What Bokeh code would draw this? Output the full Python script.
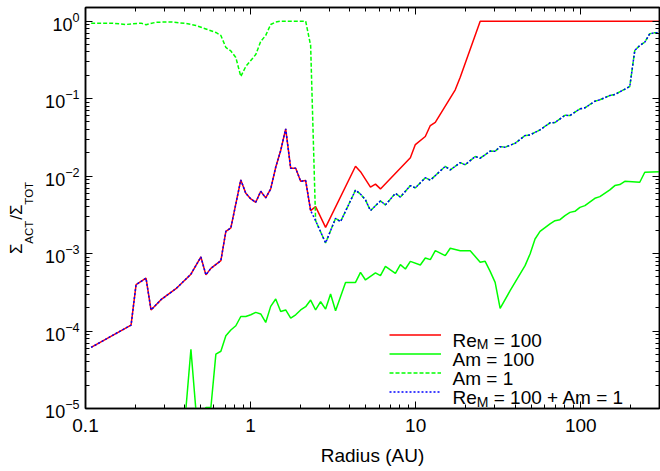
import math
from bokeh.plotting import figure
from bokeh.models import (Range1d, FixedTicker, LogAxis, CustomJSTickFormatter,
                          Label, Legend, LegendItem)
from bokeh.embed import file_html
from bokeh.resources import INLINE

# ---------------- data ----------------
radius_rem = [0.1082, 0.1888, 0.2024, 0.2326, 0.2494, 0.2866, 0.3532, 0.4351,
              0.5001, 0.5362, 0.5748, 0.6607, 0.7084, 0.7594, 0.8141, 0.8726,
              0.9355, 1.003, 1.075, 1.152, 1.235, 1.324, 1.420, 1.522, 1.632,
              1.750, 1.876, 2.011, 2.156, 2.311, 2.477, 2.847, 4.322, 4.633,
              5.324, 5.708, 6.119, 9.288, 9.957, 11.44, 12.27, 13.15, 17.37,
              18.62, 24.60, 300.0]
ratio_rem = [6.14e-5, 1.195e-4, 3.96e-4, 4.81e-4, 1.87e-4, 2.54e-4, 3.52e-4, 5.42e-4,
             9.04e-4, 5.31e-4, 6.44e-4, 8.09e-4, 1.935e-3, 2.14e-3, 4.37e-3, 8.93e-3,
             5.99e-3, 5.07e-3, 4.59e-3, 6.36e-3, 5.23e-3, 6.83e-3, 1.30e-2, 2.14e-2, 4.07e-2,
             1.26e-2, 1.26e-2, 8.57e-3, 8.75e-3, 3.58e-3, 4.04e-3, 2.18e-3, 1.34e-2, 1.14e-2,
             7.21e-3, 7.88e-3, 6.83e-3, 1.72e-2, 2.55e-2, 3.24e-2, 4.49e-2, 4.95e-2, 0.130,
             0.189, 1.0, 1.0]

radius_am100 = [0.4059, 0.4351, 0.4665, 0.5001, 0.5362, 0.5748, 0.6163, 0.6607,
                0.7084, 0.7594, 0.8141, 0.8726, 0.9355, 1.003, 1.075, 1.152,
                1.235, 1.324, 1.420, 1.522, 1.632, 1.750, 1.876, 2.011, 2.156,
                2.311, 2.477, 2.656, 2.847, 3.052, 3.272, 3.761, 4.322, 4.633,
                4.966, 5.708, 6.119, 6.559, 7.032, 7.539, 8.082, 8.664, 9.288,
                10.67, 11.44, 12.27, 13.15, 15.11, 16.20, 18.62, 21.40, 24.60,
                26.36, 28.27, 30.30, 32.49, 37.34, 46.00, 49.32, 52.87, 56.68,
                65.14, 69.83, 74.86, 80.26, 86.04, 92.23, 98.88, 106.0, 121.8,
                130.6, 150.1, 160.9, 172.5, 184.9, 227.8, 244.3, 300.0]
ratio_am100 = [1.0e-5, 5.82e-5, 0.95e-5, 0.8e-5, 1.03e-5, 1.03e-5, 5.04e-5, 5.48e-5,
               8.70e-5, 1.03e-4, 1.17e-4, 1.54e-4, 1.54e-4, 1.62e-4, 1.74e-4, 1.66e-4,
               1.29e-4, 2.08e-4, 2.59e-4, 1.79e-4, 1.87e-4, 1.47e-4, 1.62e-4, 1.87e-4, 2.06e-4,
               2.51e-4, 1.87e-4, 2.39e-4, 1.92e-4, 3.01e-4, 1.83e-4, 4.24e-4, 4.24e-4, 5.71e-4,
               4.56e-4, 5.62e-4, 5.18e-4, 6.83e-4, 6.14e-4, 5.55e-4, 7.19e-4, 6.32e-4, 7.93e-4,
               7.12e-4, 8.77e-4, 8.34e-4, 1.09e-3, 9.39e-4, 1.17e-3, 1.09e-3, 1.09e-3, 7.70e-4,
               7.93e-4, 5.89e-4, 4.24e-4, 1.96e-4, 3.32e-4, 6.98e-4, 9.88e-4, 1.54e-3, 1.93e-3,
               2.41e-3, 2.66e-3, 2.74e-3, 3.09e-3, 3.40e-3, 3.51e-3, 3.95e-3, 4.16e-3, 5.17e-3,
               5.43e-3, 6.63e-3, 7.54e-3, 7.77e-3, 8.57e-3, 8.32e-3, 1.12e-2, 1.14e-2]

radius_am1 = [0.1082, 0.1429, 0.1761, 0.2170, 0.2326, 0.2674, 0.3295, 0.4059,
              0.4665, 0.5362, 0.6163, 0.6607, 0.7084, 0.7594, 0.8141, 0.8726,
              0.9355, 1.075, 1.152, 1.235, 1.324, 1.420, 1.522, 2.156, 2.311,
              2.477, 2.847, 3.272, 3.508, 4.322, 4.633, 4.966, 5.324, 6.119,
              6.559, 7.539, 8.082, 9.288, 9.957, 11.44, 12.27, 15.11, 16.20,
              18.62, 19.96, 22.94, 24.60, 28.27, 30.30, 32.49, 34.83, 40.03,
              46.00, 49.32, 56.68, 65.14, 69.83, 80.26, 86.04, 98.88, 106.0,
              121.8, 130.6, 150.1, 160.9, 198.2, 212.5, 227.8, 244.3, 261.8,
              280.7, 300.0]
ratio_am1 = [0.942, 0.942, 0.906, 0.942, 0.898, 0.968, 0.976, 0.934,
             0.880, 0.793, 0.714, 0.654, 0.457, 0.412, 0.340, 0.193,
             0.260, 0.371, 0.547, 0.654, 0.906, 0.976, 1.0, 1.0, 0.485,
             2.66e-3, 1.37e-3, 2.85e-3, 2.58e-3, 6.59e-3, 5.85e-3, 4.93e-3, 3.58e-3, 4.78e-3,
             4.25e-3, 5.99e-3, 5.36e-3, 7.54e-3, 7.04e-3, 9.51e-3, 8.85e-3, 1.334e-2, 1.20e-2,
             1.49e-2, 1.40e-2, 1.79e-2, 1.70e-2, 2.10e-2, 2.09e-2, 2.40e-2, 2.36e-2, 2.65e-2,
             3.34e-2, 3.40e-2, 3.95e-2, 4.87e-2, 4.91e-2, 6.10e-2, 6.05e-2, 7.38e-2, 7.60e-2,
             9.25e-2, 9.65e-2, 0.1097, 0.1130, 0.1433, 0.418, 0.485, 0.536, 0.688,
             0.708, 0.708]

radius_both = [0.1082, 0.1888, 0.2024, 0.2326, 0.2494, 0.2866, 0.3532, 0.4351,
               0.5001, 0.5362, 0.5748, 0.6607, 0.7084, 0.7594, 0.8141, 0.8726,
               0.9355, 1.003, 1.075, 1.152, 1.235, 1.324, 1.420, 1.522, 1.632,
               1.750, 1.876, 2.011, 2.156, 2.311, 2.477, 2.847, 3.272, 3.508,
               4.322, 4.633, 4.966, 5.324, 6.119, 6.559, 7.539, 8.082, 9.288,
               9.957, 11.44, 12.27, 15.11, 16.20, 18.62, 19.96, 22.94, 24.60,
               28.27, 30.30, 32.49, 34.83, 40.03, 46.00, 49.32, 56.68, 65.14,
               69.83, 80.26, 86.04, 98.88, 106.0, 121.8, 130.6, 150.1, 160.9,
               198.2, 212.5, 227.8, 244.3, 261.8, 280.7, 300.0]
ratio_both = [6.14e-5, 1.195e-4, 3.96e-4, 4.81e-4, 1.87e-4, 2.54e-4, 3.52e-4, 5.42e-4,
              9.04e-4, 5.31e-4, 6.44e-4, 8.09e-4, 1.935e-3, 2.14e-3, 4.37e-3, 8.93e-3,
              5.99e-3, 5.07e-3, 4.59e-3, 6.36e-3, 5.23e-3, 6.83e-3, 1.30e-2, 2.14e-2, 4.07e-2,
              1.26e-2, 1.26e-2, 8.57e-3, 8.75e-3, 3.58e-3, 2.66e-3, 1.37e-3, 2.85e-3, 2.58e-3,
              6.59e-3, 5.85e-3, 4.93e-3, 3.58e-3, 4.78e-3, 4.25e-3, 5.99e-3, 5.36e-3, 7.54e-3,
              7.04e-3, 9.51e-3, 8.85e-3, 1.334e-2, 1.20e-2, 1.49e-2, 1.40e-2, 1.79e-2, 1.70e-2,
              2.10e-2, 2.09e-2, 2.40e-2, 2.36e-2, 2.65e-2, 3.34e-2, 3.40e-2, 3.95e-2, 4.87e-2,
              4.91e-2, 6.10e-2, 6.05e-2, 7.38e-2, 7.60e-2, 9.25e-2, 9.65e-2, 0.1097, 0.1130,
              0.1433, 0.418, 0.485, 0.536, 0.688, 0.708, 0.708]

x_ticks = [0.1, 1, 10, 100]
x_tick_labels = ["0.1", "1", "10", "100"]
x_title = "Radius (AU)"
legend_rows = [[("Re", "main"), ("M", "sub"), (" = 100", "main")],
               [("Am = 100", "main")],
               [("Am = 1", "main")],
               [("Re", "main"), ("M", "sub"), (" = 100 + Am = 1", "main")]]
y_title = [("\u03a3", "main"), ("ACT", "sub"), ("/\u03a3", "main"), ("TOT", "sub")]

# ---------------- layout ----------------
W, H = 660, 471
FL, FR, FT, FB = 85, 659, 7, 408
FONT = "Liberation Sans"

p = figure(width=W, height=H, x_axis_type="log", y_axis_type="log",
           x_range=Range1d(0.1, 300), y_range=Range1d(1e-5, 1.5),
           output_backend="svg", toolbar_location=None,
           min_border_left=FL, min_border_right=W - FR,
           min_border_top=FT, min_border_bottom=H - FB)
p.grid.visible = False
p.outline_line_color = "black"
p.outline_line_width = 1.5
p.background_fill_color = "white"
p.border_fill_color = "white"

x_minor = [m * d for d in (0.1, 1, 10, 100) for m in range(2, 10) if m * d <= 300]
y_major = [10.0 ** e for e in range(-5, 1)]
y_minor = [m * 10.0 ** e for e in range(-5, 1) for m in range(2, 10) if m * 10.0 ** e <= 1.5]
xticker = FixedTicker(ticks=x_ticks, minor_ticks=x_minor)
yticker = FixedTicker(ticks=y_major, minor_ticks=y_minor)

xfmt = CustomJSTickFormatter(args=dict(vals=x_ticks, labs=x_tick_labels), code="""
    const i = vals.findIndex(v => Math.abs(v - tick) <= 1e-9 * Math.max(1, v));
    return i >= 0 ? labs[i] : '';
""")
blank_fmt = CustomJSTickFormatter(code="return '';")


def style_axis(ax, labels=True):
    ax.axis_line_color = "black"
    ax.axis_line_width = 1.5
    ax.major_tick_in = 7
    ax.major_tick_out = 0
    ax.minor_tick_in = 4
    ax.minor_tick_out = 0
    ax.major_tick_line_color = "black"
    ax.minor_tick_line_color = "black"
    ax.major_tick_line_width = 1
    ax.minor_tick_line_width = 1
    if not labels:
        ax.formatter = blank_fmt
        ax.major_label_text_font_size = "2px"
        ax.major_label_standoff = 0


xa = p.xaxis[0]
xa.ticker = xticker
xa.formatter = xfmt
style_axis(xa)
xa.major_label_text_font = FONT
xa.major_label_text_font_size = "19px"
xa.major_label_text_color = "black"
xa.major_label_standoff = 10
xa.axis_label = x_title
xa.axis_label_text_font = FONT
xa.axis_label_text_font_size = "19px"
xa.axis_label_text_font_style = "normal"
xa.axis_label_text_color = "black"
xa.axis_label_standoff = 10

top = LogAxis(ticker=xticker)
style_axis(top, labels=False)
p.add_layout(top, "above")
right = LogAxis(ticker=yticker)
style_axis(right, labels=False)
p.add_layout(right, "right")

# ---------------- y title: Σ_ACT/Σ_TOT as two aligned rotated texts ----------------
ADV = {"R": .722, "e": .556, "M": .833, "A": .667, "m": .833, " ": .278, "=": .584,
       "+": .584, "1": .556, "0": .556, "C": .722, "T": .611, "O": .778, "/": .278,
       "\u03a3": .617, "\u00a0": .278}
NB = "\u00a0"


def tw(s, size):
    return sum(ADV.get(c, .556) for c in s) * size


def split_lines(pieces, s_main, s_sub, total):
    """Build two strings (main / subscript line) whose glyphs interleave along one baseline."""
    main, sub = "", ""
    pos_m = pos_s = pos = 0.0
    for txt, kind in pieces:
        size = s_main if kind == "main" else s_sub
        if kind == "main":
            n = round((pos - pos_m) / tw(NB, s_main))
            main += NB * n + txt
            pos_m += n * tw(NB, s_main) + tw(txt, s_main)
            pos = pos_m
        else:
            n = round((pos - pos_s) / tw(NB, s_sub))
            sub += NB * n + txt
            pos_s += n * tw(NB, s_sub) + tw(txt, s_sub)
            pos = pos_s
    main += NB * round((total - pos_m) / tw(NB, s_main))
    sub += NB * round((total - pos_s) / tw(NB, s_sub))
    return main, sub


Y_MAIN, Y_SUB = 17, 11.5
title_main, title_sub = split_lines(y_title, Y_MAIN, Y_SUB, 91)

ya = p.yaxis[0]
ya.ticker = yticker
style_axis(ya)
ya.major_label_text_font = FONT
ya.major_label_text_font_size = "18px"
ya.major_label_text_color = "black"
ya.major_label_standoff = 6
ya.axis_label = title_sub
ya.axis_label_text_font = FONT
ya.axis_label_text_font_size = f"{Y_SUB}px"
ya.axis_label_text_font_style = "normal"
ya.axis_label_text_color = "black"
ya.axis_label_standoff = 7

ya2 = LogAxis(ticker=FixedTicker(ticks=[], minor_ticks=[]), formatter=blank_fmt,
              axis_line_color=None, major_tick_in=0, major_tick_out=0,
              minor_tick_in=0, minor_tick_out=0, major_label_standoff=0,
              major_label_text_font_size="2px",
              axis_label=title_main, axis_label_text_font=FONT,
              axis_label_text_font_size=f"{Y_MAIN}px", axis_label_text_font_style="normal",
              axis_label_text_color="black", axis_label_standoff=-5)
p.add_layout(ya2, "left")

# ---------------- lines ----------------
r_rem = p.line(radius_rem, ratio_rem, line_color="#ff0000", line_width=1.5)
r_am100 = p.line(radius_am100, ratio_am100, line_color="#00ff00", line_width=1.5)
r_am1 = p.line(radius_am1, ratio_am1, line_color="#00ff00", line_width=1.5, line_dash="4 2")
r_both = p.line(radius_both, ratio_both, line_color="#0000ff", line_width=1.5, line_dash="2 2")

# legend sample lines (text is drawn separately to allow subscripts)
legend = Legend(items=[LegendItem(label=" ", renderers=[r]) for r in (r_rem, r_am100, r_am1, r_both)],
                location=(304, 7), glyph_width=52, glyph_height=19, label_height=19,
                label_width=1, label_standoff=0, spacing=0, padding=0, margin=0,
                label_text_font_size="8px", border_line_color=None,
                background_fill_alpha=0)
p.add_layout(legend)

SIZES = {"main": 19, "sub": 14}


def rich(pieces, cx, cy, sizes=SIZES, sub_shift=4):
    """Place text pieces; (cx, cy) is the start baseline point in canvas pixels (y down)."""
    pos = 0.0
    for txt, kind in pieces:
        size = sizes[kind]
        shift = sub_shift if kind == "sub" else 0
        stripped = txt.lstrip(" ")
        pos += tw(txt[:len(txt) - len(stripped)], size)
        p.add_layout(Label(x=cx + pos, y=cy + shift, x_units="canvas", y_units="canvas",
                           text=stripped, text_font=FONT, text_font_size=f"{size}px",
                           text_color="black", text_align="left",
                           text_baseline="alphabetic"))
        pos += tw(stripped, size)


for i, row in enumerate(legend_rows):
    rich(row, 452, 339.5 + i * 19.3)

open("out.html", "w").write(file_html(p, INLINE))
